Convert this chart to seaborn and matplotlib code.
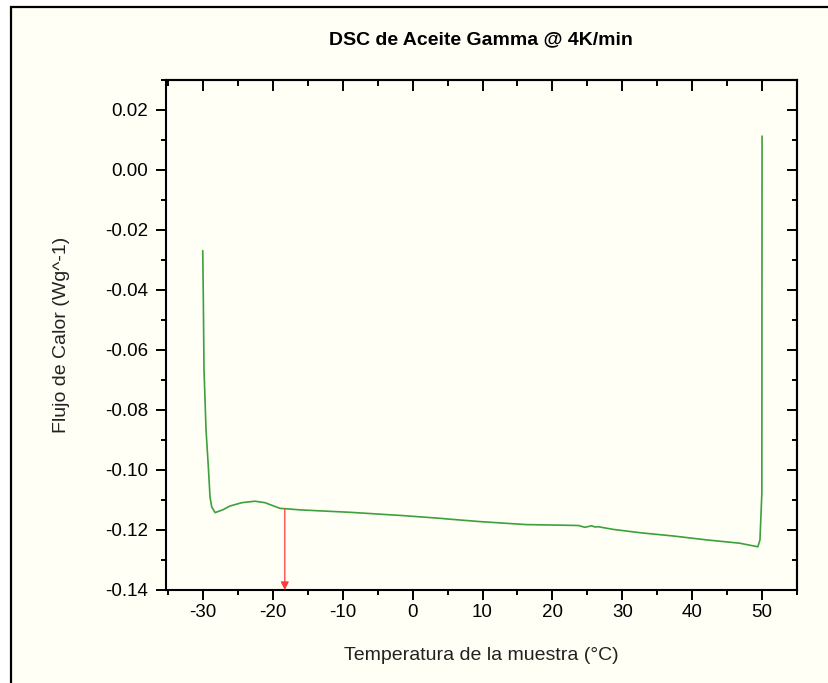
import matplotlib
matplotlib.use("Agg")
import matplotlib.pyplot as plt
from matplotlib.patches import Rectangle
from matplotlib.ticker import MultipleLocator, FormatStrFormatter
import seaborn as sns
import pandas as pd

# ---- data ----
temperature = [-30.04, -29.95, -29.86, -29.57, -29.24, -29.0, -28.76, -28.28,
               -27.2, -26.14, -24.46, -22.56, -21.13, -18.98, -18.27, -16.1,
               -8.97, -1.39, 3.9, 5.34, 9.63, 16.3, 21.5, 23.7, 24.65, 25.6,
               26.1, 26.55, 28.7, 32.5, 37.3, 42.06, 46.8, 49.4, 49.7, 49.97, 50.0]
heat_flow = [-0.0269, -0.045, -0.0667, -0.0867, -0.099, -0.109, -0.1123, -0.1142,
             -0.1133, -0.1120, -0.1109, -0.1104, -0.1109, -0.1128, -0.1129, -0.1133,
             -0.1141, -0.1152, -0.1161, -0.1164, -0.1172, -0.1182, -0.1184, -0.1185,
             -0.1191, -0.1186, -0.1190, -0.1189, -0.1198, -0.1209, -0.1220, -0.1233,
             -0.1244, -0.1256, -0.1233, -0.1078, 0.0113]
arrow_x = -18.3
arrow_y_start = -0.1129
arrow_y_end = -0.14

title = "DSC de Aceite Gamma @ 4K/min"
xlabel = "Temperatura de la muestra (°C)"
ylabel = "Flujo de Calor (Wg^-1)"

sns.set_theme(style="white")
plt.rcParams['font.family'] = ['Liberation Sans', 'DejaVu Sans']
plt.rcParams['axes.unicode_minus'] = False

cream = '#FFFFF5'
fig = plt.figure(figsize=(8.29, 6.83), dpi=100, facecolor='white')
# outer frame (only left and top edges visible)
frame = Rectangle((11 / 829, -0.2), 1.5, 1.2 - 7 / 683, transform=fig.transFigure,
                  facecolor=cream, edgecolor='black', linewidth=1.6, zorder=-10)
fig.patches.append(frame)

ax = fig.add_axes([166 / 829, 1 - 590 / 683, 631 / 829, 510 / 683])
ax.set_facecolor(cream)

df = pd.DataFrame({"T": temperature, "Q": heat_flow})
sns.lineplot(data=df, x="T", y="Q", sort=False, estimator=None, ax=ax,
             color='#3ca03c', linewidth=1.2)

ax.annotate("", xy=(arrow_x, arrow_y_end), xytext=(arrow_x, arrow_y_start),
            arrowprops=dict(arrowstyle='-|>', color='#ff3b3b', lw=0.9,
                            mutation_scale=12, shrinkA=0, shrinkB=0))

ax.set_xlim(-35.3, 55.0)
ax.set_ylim(-0.14, 0.03)

ax.xaxis.set_major_locator(MultipleLocator(10))
ax.xaxis.set_minor_locator(MultipleLocator(5))
ax.yaxis.set_major_locator(MultipleLocator(0.02))
ax.yaxis.set_minor_locator(MultipleLocator(0.01))
ax.yaxis.set_major_formatter(FormatStrFormatter('%.2f'))

for s in ax.spines.values():
    s.set_visible(True)
    s.set_color('black')
    s.set_linewidth(1.5)

ax.tick_params(axis='both', which='both', direction='out', color='black',
               width=1.4, labelsize=13.5, labelcolor='black',
               bottom=True, left=True, top=False, right=False)
ax.tick_params(axis='both', which='major', length=7)
ax.tick_params(axis='both', which='minor', length=3.8)
ax.tick_params(axis='x', which='major', pad=3)
ax.tick_params(axis='y', which='major', pad=6)

sec_x = ax.secondary_xaxis('top')
sec_x.xaxis.set_major_locator(MultipleLocator(10))
sec_x.xaxis.set_minor_locator(MultipleLocator(5))
sec_x.tick_params(axis='x', which='both', direction='in', width=1.4, color='black',
                  labeltop=False)
sec_x.tick_params(axis='x', which='major', length=8)
sec_x.tick_params(axis='x', which='minor', length=4)
sec_x.spines['top'].set_linewidth(1.5)

sec_y = ax.secondary_yaxis('right')
sec_y.yaxis.set_major_locator(MultipleLocator(0.02))
sec_y.yaxis.set_minor_locator(MultipleLocator(0.01))
sec_y.tick_params(axis='y', which='both', direction='in', width=1.4, color='black',
                  labelright=False)
sec_y.tick_params(axis='y', which='major', length=7.5)
sec_y.tick_params(axis='y', which='minor', length=3.8)
sec_y.spines['right'].set_linewidth(1.5)

ax.set_xlabel(xlabel, fontsize=14, color='#222222')
ax.set_ylabel(ylabel, fontsize=14, color='#222222')
ax.xaxis.set_label_coords(0.5, -0.1275)
ax.yaxis.set_label_coords(-0.165, 0.5)
ax.xaxis.label.set_va('center')
ax.yaxis.label.set_va('center')

fig.text(481 / 829, 1 - 40 / 683, title, ha='center', va='center',
         fontsize=14, fontweight='bold', color='black')

fig.savefig("out.png", dpi=100, facecolor=fig.get_facecolor())
